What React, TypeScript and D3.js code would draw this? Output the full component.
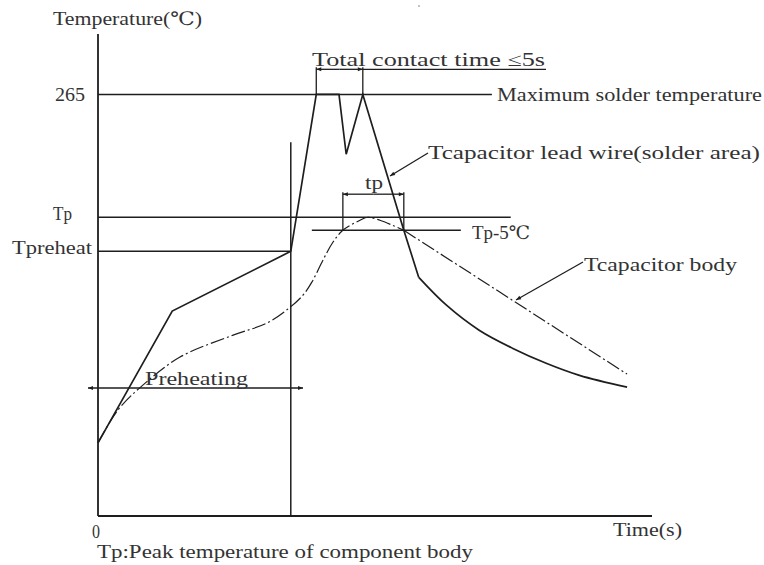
import React from "react";
import * as d3 from "d3";

// ---- data (time in arbitrary units 0..100, temperature in arbitrary °C-like units) ----
const leadTime = [0, 13.4, 34.8, 39.4, 43.5, 44.8, 47.8, 55.2, 57.9];
const leadTemp = [46, 128.8, 166.4, 265, 265, 227.4, 265, 179.6, 150];
const coolTime = [57.9, 62.9, 68.8, 74.8, 80.9, 86.9, 95.5];
const coolTemp = [150, 132.5, 116.8, 105.5, 96, 88.4, 81];
const bodyTime = [0, 3.6, 8.1, 14.8, 24.4, 30.5, 34.7, 37, 38.6, 40.6, 42.4, 44.2, 47.3, 48.7, 50.9, 53.2, 55.2];
const bodyTemp = [46, 66.6, 82.3, 99.9, 113.7, 121.3, 131.3, 138.8, 147, 160.8, 172.1, 179.6, 185.9, 187.8, 185.9, 182.7, 179.6];
const bodyTailTime = [55.2, 95.5];
const bodyTailTemp = [179.6, 89.2];

const yTickLabels = ["265", "Tp", "Tpreheat"];
const yTickValues = [265, 187.8, 166.4];
const refLineEnds = [71.1, 74.5, 34.8];
const tpMinus5 = 179.6;
const preheatEnd = 34.8;
const contactStart = 39.4;
const contactEnd = 47.8;
const tpStart = 44.2;
const tpEnd = 55.2;

const W = 764;
const H = 565;
const FONT = "'Liberation Serif', 'DejaVu Serif', serif";
const INK = "#1e1e1e";
const TXT = "#333";

export default function App() {
  const x = d3.scaleLinear().domain([0, 100]).range([98, 652]);
  const y = d3.scaleLinear().domain([0, 303]).range([516, 34]);

  const lineLin = d3.line<[number, number]>().x((d) => x(d[0])).y((d) => y(d[1]));
  const lineCurve = d3
    .line<[number, number]>()
    .x((d) => x(d[0]))
    .y((d) => y(d[1]))
    .curve(d3.curveCatmullRom.alpha(0.5));

  const zip = (a: number[], b: number[]) => a.map((v, i) => [v, b[i]] as [number, number]);

  const lead = lineLin(zip(leadTime, leadTemp)) || "";
  const cool = lineCurve(zip(coolTime, coolTemp)) || "";
  const body = lineCurve(zip(bodyTime, bodyTemp)) || "";
  const bodyTail = lineLin(zip(bodyTailTime, bodyTailTemp)) || "";

  const dash = "14,3,2,3";

  const txt = (s: string, px: number, py: number, len: number) => (
    <text
      x={px}
      y={py}
      fontFamily={FONT}
      fontSize={18.5}
      fill={TXT}
      textLength={len}
      lengthAdjust="spacingAndGlyphs"
    >
      {s}
    </text>
  );

  const yContact = y(280.8);
  const yTp = y(202.3);
  const sw = 1.5;

  return (
    <svg
      width={W}
      height={H}
      style={{ position: "absolute", left: 0, top: 0, background: "#fff" }}
    >
      <defs>
        <marker
          id="arr"
          viewBox="0 0 10 10"
          refX="10"
          refY="5"
          markerWidth="9"
          markerHeight="5"
          markerUnits="userSpaceOnUse"
          orient="auto-start-reverse"
        >
          <path d="M0,1 L10,5 L0,9 Z" fill={INK} />
        </marker>
      </defs>

      {/* axes */}
      <line x1={x(0)} x2={x(0)} y1={y(303)} y2={y(0)} stroke={INK} strokeWidth={1.8} />
      <line x1={x(0)} x2={x(100)} y1={y(0)} y2={y(0)} stroke={INK} strokeWidth={1.8} />

      {/* reference horizontal lines */}
      {yTickValues.map((v, i) => (
        <line
          key={"r" + i}
          x1={x(0)}
          x2={x(refLineEnds[i])}
          y1={y(v)}
          y2={y(v)}
          stroke={INK}
          strokeWidth={sw}
        />
      ))}
      {/* Tp-5 line */}
      <line x1={x(38.6)} x2={x(65.5)} y1={y(tpMinus5)} y2={y(tpMinus5)} stroke={INK} strokeWidth={sw} />

      {/* preheat end vertical */}
      <line x1={x(preheatEnd)} x2={x(preheatEnd)} y1={y(235)} y2={y(0)} stroke={INK} strokeWidth={sw} />

      {/* curves */}
      <path d={lead} fill="none" stroke={INK} strokeWidth={1.7} strokeLinejoin="miter" />
      <path d={cool} fill="none" stroke={INK} strokeWidth={1.7} />
      <path d={body} fill="none" stroke={INK} strokeWidth={1.2} strokeDasharray={dash} />
      <path d={bodyTail} fill="none" stroke={INK} strokeWidth={1.2} strokeDasharray={dash} />

      {/* total contact time dimension */}
      <line x1={x(contactStart)} x2={x(contactStart)} y1={y(265)} y2={yContact - 2} stroke={INK} strokeWidth={1.3} />
      <line x1={x(contactEnd)} x2={x(contactEnd)} y1={y(265)} y2={yContact - 2} stroke={INK} strokeWidth={1.3} />
      <line x1={x(contactEnd)} x2={546} y1={yContact} y2={yContact} stroke={INK} strokeWidth={1.3} />
      <line
        x1={(x(contactStart) + x(contactEnd)) / 2}
        x2={x(contactStart)}
        y1={yContact}
        y2={yContact}
        stroke={INK}
        strokeWidth={1.3}
        markerEnd="url(#arr)"
      />
      <line
        x1={(x(contactStart) + x(contactEnd)) / 2}
        x2={x(contactEnd)}
        y1={yContact}
        y2={yContact}
        stroke={INK}
        strokeWidth={1.3}
        markerEnd="url(#arr)"
      />
      {txt("Total contact time ≤5s", 312, 66, 233)}

      {/* tp dimension */}
      <line x1={x(tpStart)} x2={x(tpStart)} y1={y(tpMinus5)} y2={yTp - 2} stroke={INK} strokeWidth={1.3} />
      <line x1={x(tpEnd)} x2={x(tpEnd)} y1={y(tpMinus5)} y2={yTp - 2} stroke={INK} strokeWidth={1.3} />
      <line
        x1={(x(tpStart) + x(tpEnd)) / 2}
        x2={x(tpStart)}
        y1={yTp}
        y2={yTp}
        stroke={INK}
        strokeWidth={1.3}
        markerEnd="url(#arr)"
      />
      <line
        x1={(x(tpStart) + x(tpEnd)) / 2}
        x2={x(tpEnd)}
        y1={yTp}
        y2={yTp}
        stroke={INK}
        strokeWidth={1.3}
        markerEnd="url(#arr)"
      />
      {txt("tp", 365, 189, 18)}

      {/* preheating dimension */}
      <line x1={193} x2={88} y1={388} y2={388} stroke={INK} strokeWidth={1.3} markerEnd="url(#arr)" />
      <line x1={193} x2={303} y1={388} y2={388} stroke={INK} strokeWidth={1.3} markerEnd="url(#arr)" />
      {txt("Preheating", 145, 385, 103)}

      {/* leader lines */}
      <line x1={428} x2={390} y1={153} y2={176} stroke={INK} strokeWidth={1.3} markerEnd="url(#arr)" />
      <line x1={583} x2={516} y1={262} y2={300} stroke={INK} strokeWidth={1.3} markerEnd="url(#arr)" />

      {/* labels */}
      {txt("Temperature(℃)", 53, 25, 149)}
      {yTickLabels.map((s, i) => (
        <text
          key={"t" + i}
          x={[55, 53, 12][i]}
          y={y(yTickValues[i]) + [7, 3, 3][i]}
          fontFamily={FONT}
          fontSize={18.5}
          fill={TXT}
          textLength={[30, 19, 80][i]}
          lengthAdjust="spacingAndGlyphs"
        >
          {s}
        </text>
      ))}
      {txt("Maximum solder temperature", 497, 101, 265)}
      {txt("Tcapacitor lead wire(solder area)", 428, 159, 332)}
      {txt("Tp-5℃", 472, 239, 58)}
      {txt("Tcapacitor body", 584, 271, 153)}
      {txt("0", 92, 538, 8)}
      {txt("Time(s)", 613, 536, 69)}
      {txt("Tp:Peak temperature of component body", 97, 558, 376)}
      <circle cx={419} cy={6} r={0.8} fill="#777" />
    </svg>
  );
}
